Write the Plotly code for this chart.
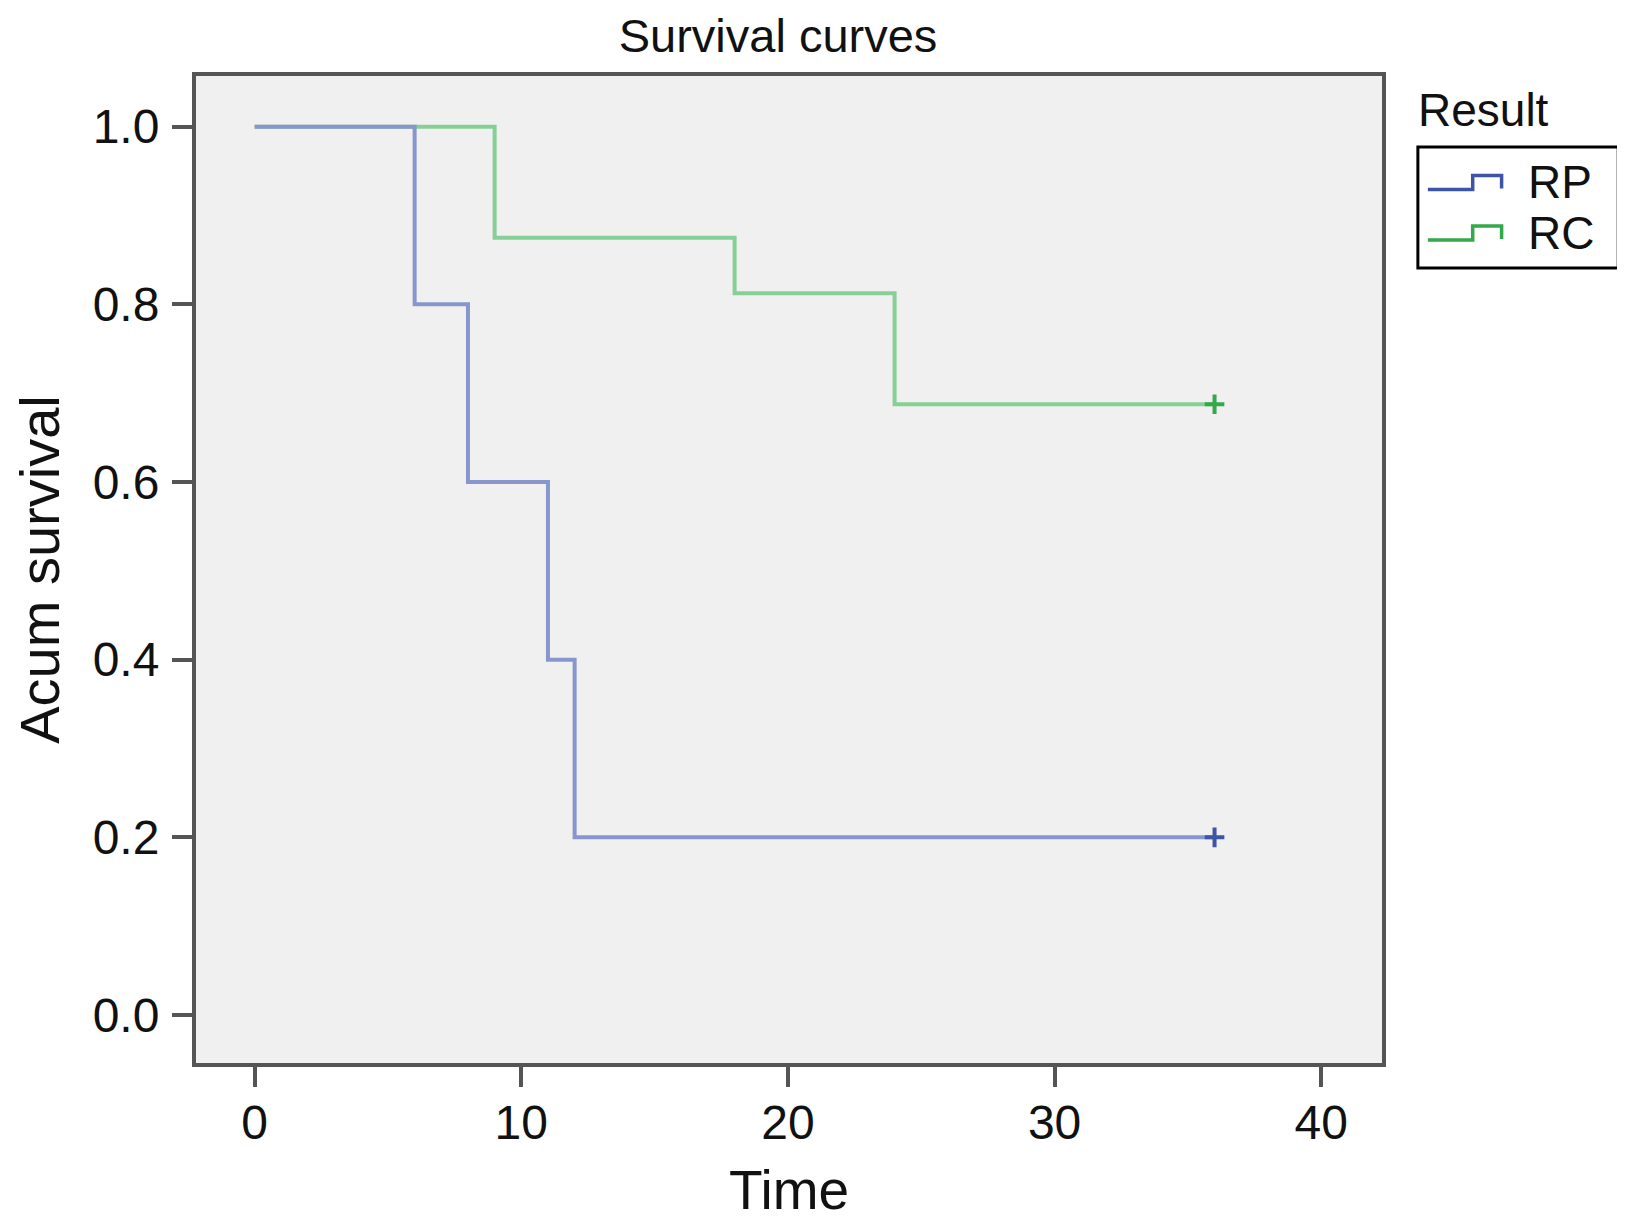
import plotly.graph_objects as go

# Kaplan-Meier step data
rp_time = [0, 6, 8, 11, 12, 36]
rp_surv = [1.0, 0.8, 0.6, 0.4, 0.2, 0.2]
rc_time = [0, 9, 18, 24, 36]
rc_surv = [1.0, 0.875, 0.8125, 0.6875, 0.6875]
series_names = ["RP", "RC"]
legend_title = "Result"
x_ticks = [0, 10, 20, 30, 40]
y_ticks = [0.0, 0.2, 0.4, 0.6, 0.8, 1.0]
y_ticklabels = ["0.0", "0.2", "0.4", "0.6", "0.8", "1.0"]

blue_line, blue_dark = "#8796cc", "#3d55a3"
green_line, green_dark = "#86cf95", "#34a84b"
FONT = "Liberation Sans, Arial, Helvetica, sans-serif"
TXT = "#111111"

W, H = 1625, 1222
L, R, T, B = 184, 251, 68, 167
PW, PH = W - L - R, H - T - B


def px(x):
    return (x - L) / PW


def py(y):
    return (H - B - y) / PH


fig = go.Figure()
fig.add_trace(go.Scatter(x=rc_time, y=rc_surv, mode="lines", name=series_names[1],
                         line=dict(color=green_line, width=4, shape="hv"), showlegend=False))
fig.add_trace(go.Scatter(x=rp_time, y=rp_surv, mode="lines", name=series_names[0],
                         line=dict(color=blue_line, width=4, shape="hv"), showlegend=False))
# censor marks
fig.add_trace(go.Scatter(x=[rc_time[-1]], y=[rc_surv[-1]], mode="markers",
                         marker=dict(symbol="cross-thin", size=14, line=dict(color=green_dark, width=4)),
                         showlegend=False))
fig.add_trace(go.Scatter(x=[rp_time[-1]], y=[rp_surv[-1]], mode="markers",
                         marker=dict(symbol="cross-thin", size=14, line=dict(color=blue_dark, width=4)),
                         showlegend=False))

axis_common = dict(showline=True, linecolor="#555555", linewidth=4, mirror=True,
                   ticks="outside", ticklen=20, tickwidth=4, tickcolor="#555555",
                   showgrid=False, zeroline=False,
                   tickfont=dict(family=FONT, size=48, color=TXT))

# custom legend (step glyphs) in paper coordinates
shapes = [dict(type="rect", xref="paper", yref="paper",
               x0=px(1410), x1=px(1611), y0=py(139), y1=py(260),
               line=dict(color="#000000", width=3), fillcolor="white", layer="above")]
annotations = [dict(text=legend_title, xref="paper", yref="paper", x=px(1408), y=py(102),
                    xanchor="left", yanchor="middle", showarrow=False,
                    font=dict(size=46, family=FONT, color=TXT))]
for i, (name, col) in enumerate(zip(series_names, [blue_dark, green_dark])):
    yc = 174.5 + 50.5 * i
    lo, hi = yc + 7, yc - 7
    x0, xs, x1 = 1420, 1465, 1494
    path = (f"M {px(x0)},{py(lo)} L {px(xs)},{py(lo)} L {px(xs)},{py(hi)} "
            f"L {px(x1)},{py(hi)} L {px(x1)},{py(lo - 1)}")
    shapes.append(dict(type="path", xref="paper", yref="paper", path=path,
                       line=dict(color=col, width=3.5), layer="above"))
    annotations.append(dict(text=name, xref="paper", yref="paper", x=px(1518), y=py(yc),
                            xanchor="left", yanchor="middle", showarrow=False,
                            font=dict(size=46, family=FONT, color=TXT)))

fig.update_layout(
    width=W, height=H,
    margin=dict(l=L, r=R, t=T, b=B),
    paper_bgcolor="white", plot_bgcolor="#f0f0f0",
    font=dict(family=FONT, color=TXT),
    showlegend=False,
    title=dict(text="Survival curves", x=770 / W, xanchor="center",
               y=1 - 11 / H, yanchor="top", pad=dict(t=0, b=0),
               font=dict(size=47, family=FONT, color=TXT)),
    xaxis=dict(range=[-2.2, 42.28], tickvals=x_ticks, ticklabelstandoff=-6,
               title=dict(text="Time", font=dict(size=55, family=FONT, color=TXT), standoff=24),
               **axis_common),
    yaxis=dict(range=[-0.054, 1.057], tickvals=y_ticks, ticktext=y_ticklabels, ticklabelstandoff=3,
               title=dict(text="Acum survival", font=dict(size=56, family=FONT, color=TXT), standoff=33),
               **axis_common),
    shapes=shapes,
    annotations=annotations,
)

fig.write_html("out.html")
